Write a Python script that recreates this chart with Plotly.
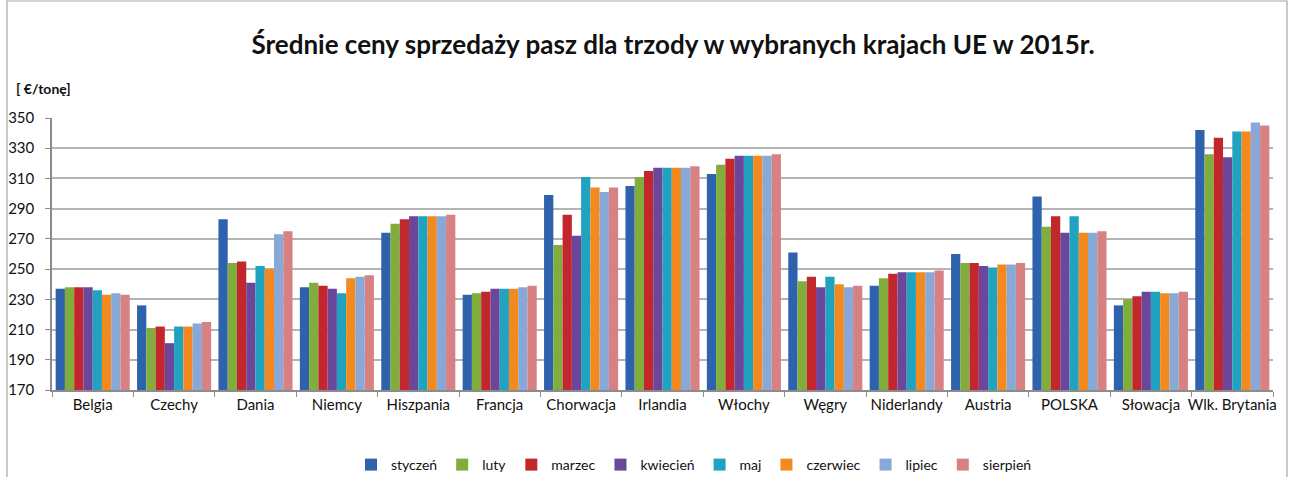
import plotly.graph_objects as go

countries = ["Belgia", "Czechy", "Dania", "Niemcy", "Hiszpania", "Francja", "Chorwacja",
             "Irlandia", "Włochy", "Węgry", "Niderlandy", "Austria", "POLSKA", "Słowacja",
             "Wlk. Brytania"]

months = ["styczeń", "luty", "marzec", "kwiecień", "maj", "czerwiec", "lipiec", "sierpień"]

# values per country, Jan..Aug
belgia = [237, 238, 238, 238, 236, 233, 234, 233]
czechy = [226, 211, 212, 201, 212, 212, 214, 215]
dania = [283, 254, 255, 241, 252, 250, 273, 275]
niemcy = [238, 241, 239, 237, 234, 244, 245, 246]
hiszpania = [274, 280, 283, 285, 285, 285, 285, 286]
francja = [233, 234, 235, 237, 237, 237, 238, 239]
chorwacja = [299, 266, 286, 272, 311, 304, 301, 304]
irlandia = [305, 311, 315, 317, 317, 317, 317, 318]
wlochy = [313, 319, 323, 325, 325, 325, 325, 326]
wegry = [261, 242, 245, 238, 245, 240, 238, 239]
niderlandy = [239, 244, 247, 248, 248, 248, 248, 249]
austria = [260, 254, 254, 252, 251, 253, 253, 254]
polska = [298, 278, 285, 274, 285, 274, 274, 275]
slowacja = [226, 230, 232, 235, 235, 234, 234, 235]
wlk_brytania = [342, 326, 337, 324, 341, 341, 347, 345]

rows = [belgia, czechy, dania, niemcy, hiszpania, francja, chorwacja, irlandia, wlochy,
        wegry, niderlandy, austria, polska, slowacja, wlk_brytania]

colors = ["#2f62ad", "#80ad3c", "#c1272d", "#6b469b", "#21a2c0", "#f28a1f", "#88a8d8", "#d88183"]

FONT = "Lato"

fig = go.Figure()
for i, m in enumerate(months):
    fig.add_trace(go.Bar(
        x=countries,
        y=[r[i] - 170 for r in rows],
        base=170,
        name=m,
        marker=dict(color=colors[i], line=dict(width=0)),
        hovertemplate="%{x}<br>" + m + ": %{customdata}<extra></extra>",
        customdata=[r[i] for r in rows],
    ))

W, H = 1290, 477
L, R, T, B = 52, 17, 118, 87
pw, ph = W - L - R, H - T - B


def px(x):
    return (x - L) / pw


def py(y):
    return (H - B - y) / ph


fig.update_layout(
    width=W, height=H,
    margin=dict(l=L, r=R, t=T, b=B, autoexpand=False),
    paper_bgcolor="white", plot_bgcolor="white",
    barmode="group", bargap=0.09, bargroupgap=0,
    font=dict(family=FONT, size=15, color="#111111"),
    title=dict(text="<b>Średnie ceny sprzedaży pasz dla trzody w wybranych krajach UE w 2015r.</b>",
               x=673 / W, xanchor="center", y=1 - 45 / H, yanchor="middle",
               font=dict(family=FONT, size=26, color="#111111")),
    showlegend=True,
    legend=dict(orientation="h", x=px(694), xanchor="center", y=py(465), yanchor="middle",
                font=dict(family=FONT, size=14), itemwidth=30, tracegroupgap=0),
    xaxis=dict(showline=True, linecolor="#8c8c8c", linewidth=1.5, ticks="outside",
               tickson="boundaries", ticklen=5, tickcolor="#8c8c8c", tickangle=0,
               automargin=False,
               tickfont=dict(family=FONT, size=15), showgrid=False),
    yaxis=dict(range=[170, 350], dtick=20, tick0=170, showline=True, linecolor="#8c8c8c",
               linewidth=1.5, ticks="outside", ticklen=5, tickcolor="#8c8c8c",
               showgrid=True, gridcolor="#b4b4b4", gridwidth=1.5, automargin=False,
               tickfont=dict(family=FONT, size=15), ticklabelstandoff=8, zeroline=False),
    annotations=[dict(text="<b>[ €/tonę]</b>", xref="paper", yref="paper",
                      x=px(14), xanchor="left", y=py(89), yanchor="middle", showarrow=False,
                      font=dict(family=FONT, size=14, color="#111111"))],
    shapes=[dict(type="rect", xref="paper", yref="paper", x0=px(7), x1=px(1287),
                 y0=py(480), y1=py(1),
                 line=dict(color="#a6a6a6", width=1.2))],
)

fig.write_html("out.html", config={"displayModeBar": False},
               post_script="document.body.style.margin='0';document.body.style.overflow='hidden';")
